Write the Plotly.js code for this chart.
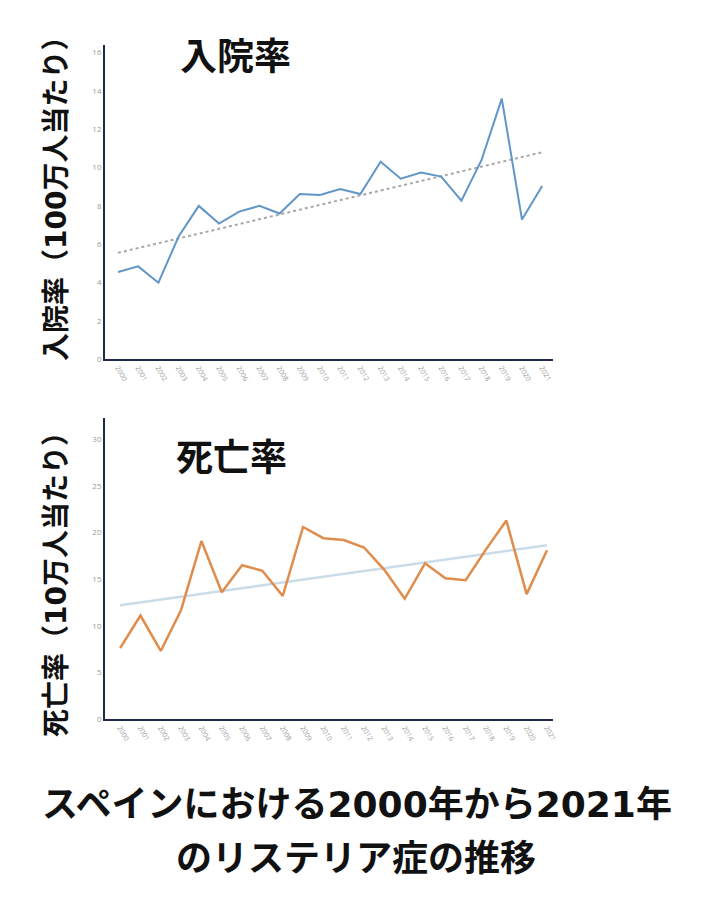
<!DOCTYPE html>
<html><head><meta charset="utf-8">
<script src="https://cdn.plot.ly/plotly-3.0.1.min.js"></script>
<style>html,body{margin:0;padding:0;background:#fff}#c{width:710px;height:900px}</style>
</head><body><div id="c"></div>
<script>
const years = [2000,2001,2002,2003,2004,2005,2006,2007,2008,2009,2010,2011,2012,2013,2014,2015,2016,2017,2018,2019,2020,2021];
const yearLabels = years.map(String);
const hospRate = [4.55,4.84,3.99,6.4,8.0,7.08,7.7,8.0,7.6,8.62,8.57,8.88,8.62,10.3,9.42,9.74,9.53,8.27,10.4,13.6,7.29,9.04];
const deathRate = [7.6,11.1,7.3,11.7,19.1,13.6,16.5,15.9,13.2,20.6,19.4,19.2,18.4,16.0,12.9,16.7,15.1,14.9,18.2,21.3,13.4,18.1];
const trendYears = [2000,2021];
const hospTrend = [5.55,10.8];
const deathTrend = [12.2,18.65];
const hospTicks = [0,2,4,6,8,10,12,14,16];
const deathTicks = [0,5,10,15,20,25,30];

const F = '"Noto Sans CJK JP", "Noto Sans", sans-serif';
const D = (s) => '<span style="font-family:DejaVu Sans">' + s + '</span>';
const traces = [
  {x: trendYears, y: hospTrend, xaxis:'x', yaxis:'y', mode:'lines', line:{color:'#a8a8a8', width:2, dash:'dot'}, hoverinfo:'skip'},
  {x: years, y: hospRate, xaxis:'x', yaxis:'y', mode:'lines', line:{color:'#6196c6', width:2}},
  {x: trendYears, y: deathTrend, xaxis:'x2', yaxis:'y2', mode:'lines', line:{color:'#cbdce9', width:2.5}, hoverinfo:'skip'},
  {x: years, y: deathRate, xaxis:'x2', yaxis:'y2', mode:'lines', line:{color:'#e08c4c', width:2.5}}
];
const xcommon = {tickmode:'array', tickvals: years, ticktext: yearLabels, tickangle: 60,
  tickfont:{family:'"Open Sans", sans-serif', size:7, color:'#9a9a9a'}, showgrid:false, zeroline:false,
  showline:true, linecolor:'#1e2a45', linewidth:2, ticks:'', fixedrange:true};
const ycommon = {tickmode:'array', tickfont:{family:'"Open Sans", sans-serif', size:8, color:'#9a9a9a'},
  showgrid:false, zeroline:false, showline:true, linecolor:'#1e2a45', linewidth:2, ticks:'', fixedrange:true};
const ann = (text, x, y, size, angle) => ({text:text, xref:'paper', yref:'paper', x:x/710, y:1-y/900,
  xanchor:'center', yanchor:'middle', showarrow:false, textangle:angle||0, font:{family:F, size:size, color:'#111'}});
const layout = {
  width:710, height:900, margin:{l:0,r:0,t:0,b:0}, showlegend:false,
  paper_bgcolor:'#fff', plot_bgcolor:'#fff',
  xaxis: Object.assign({}, xcommon, {domain:[0.148,0.779], range:[1999.36,2021.54], anchor:'y'}),
  yaxis: Object.assign({}, ycommon, {domain:[0.601,0.95], range:[0,16.4], tickvals:hospTicks, anchor:'x'}),
  xaxis2: Object.assign({}, xcommon, {domain:[0.148,0.779], range:[1999.26,2021.3], anchor:'y2'}),
  yaxis2: Object.assign({}, ycommon, {domain:[0.2011,0.5356], range:[0,32.3], tickvals:deathTicks, anchor:'x2'}),
  annotations: [
    ann('<b>入院率</b>', 235, 54, 37),
    ann('<b>死亡率</b>', 231, 455, 37),
    ann('<b>入院率（' + D('100') + '万人当たり）</b>', 54, 192, 28, -90),
    ann('<b>死亡率（' + D('10') + '万人当たり）</b>', 54, 578, 28, -90),
    ann('<b>スペインにおける' + D('2000') + '年から' + D('2021') + '年</b>', 357, 801, 36),
    ann('<b>のリステリア症の推移</b>', 356, 855, 36)
  ]
};
Plotly.newPlot('c', traces, layout, {displayModeBar:false, staticPlot:true});
</script></body></html>
